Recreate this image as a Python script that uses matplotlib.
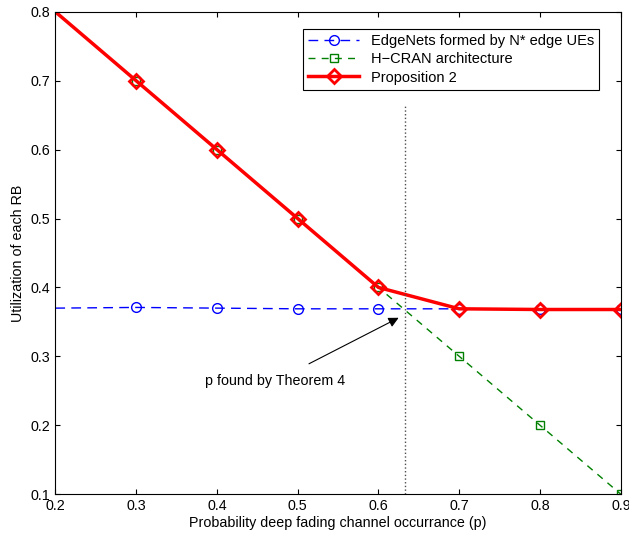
import numpy as np
import matplotlib.pyplot as plt

# data
p = [0.2, 0.3, 0.4, 0.5, 0.6, 0.7, 0.8, 0.9]
edgenets = [0.370, 0.371, 0.370, 0.369, 0.369, 0.369, 0.369, 0.369]
hcran = [0.8, 0.7, 0.6, 0.5, 0.4, 0.3, 0.2, 0.1]
prop2 = [0.8, 0.7, 0.6, 0.5, 0.4, 0.369, 0.368, 0.368]
p_thm4 = 0.633

plt.rcParams['font.family'] = 'Liberation Sans'
fig, ax = plt.subplots(figsize=(6.29, 5.36), dpi=100)
fig.subplots_adjust(left=0.088, right=0.987, top=0.978, bottom=0.078)

ax.plot(p, edgenets, '--o', color='blue', lw=1, ms=7, mfc='none', markevery=range(1, 8),
        dashes=(7, 4.5), label='EdgeNets formed by N* edge UEs')
ax.plot(p, hcran, '--s', color='green', lw=1, ms=6, mfc='none', markevery=range(1, 8),
        dashes=(5, 4.5), label='H\u2212CRAN architecture')
ax.plot(p, prop2, '-D', color='red', lw=2.5, ms=7, mew=2, mfc='none', markevery=range(1, 8),
        label='Proposition 2')

ax.plot([p_thm4, p_thm4], [0.1, 0.665], ':', color='0.3', lw=1)
ax.annotate('p found by Theorem 4', xy=(0.625, 0.356), xytext=(0.472, 0.264),
            ha='center', va='center', fontsize=10.3,
            arrowprops=dict(arrowstyle='-|>', color='black', lw=0.8, mutation_scale=15,
                            shrinkA=12, shrinkB=0))

ax.set_xlim(0.2, 0.9)
ax.set_ylim(0.1, 0.8)
ax.set_xticks(np.arange(0.2, 0.91, 0.1))
ax.set_yticks(np.arange(0.1, 0.81, 0.1))
ax.set_xticklabels(['0.2', '0.3', '0.4', '0.5', '0.6', '0.7', '0.8', '0.9'])
ax.set_yticklabels(['0.1', '0.2', '0.3', '0.4', '0.5', '0.6', '0.7', '0.8'])
ax.tick_params(direction='in', labelsize=10.3, top=True, right=True)
ax.set_xlabel('Probability deep fading channel occurrance (p)', fontsize=10.3, labelpad=2)
ax.set_ylabel('Utilization of each RB', fontsize=10.3)
leg = ax.legend(loc='upper right', fontsize=10.5, fancybox=False, edgecolor='black',
                framealpha=1, handlelength=3.5, borderpad=0.35, labelspacing=0.3,
                bbox_to_anchor=(0.975, 0.98))
leg.get_frame().set_linewidth(0.8)

fig.savefig('out.png')
